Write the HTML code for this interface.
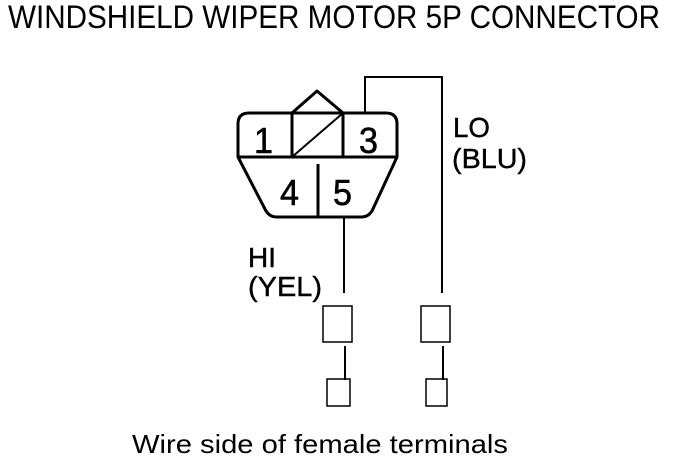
<!DOCTYPE html>
<html><head><style>html,body{margin:0;padding:0;background:#fff}</style></head>
<body>
<svg width="688" height="468" viewBox="0 0 688 468" xmlns="http://www.w3.org/2000/svg" font-family="Liberation Sans, sans-serif">
<text x="8" y="28" font-size="32" textLength="652" lengthAdjust="spacingAndGlyphs">WINDSHIELD WIPER MOTOR 5P CONNECTOR</text>
<g fill="none" stroke="#000" stroke-width="3" stroke-linejoin="round">
<path d="M238,157 L238,124 Q238,113 249,113 L386,113 Q397,113 397,124 L397,157 L372,211 Q368,217 362,217 L276,217 Q270,217 266,211 Z"/>
<line x1="238" y1="157" x2="397" y2="157"/>
<line x1="292" y1="113" x2="292" y2="157"/>
<line x1="343" y1="113" x2="343" y2="157"/>
<line x1="318" y1="164" x2="318" y2="217"/>
<path d="M292,113 L317,91 L343,113"/>
</g>
<g fill="none" stroke="#000" stroke-width="2">
<line x1="292" y1="157" x2="343" y2="113"/>
<path d="M365,113 L365,77 L442,77 L442,293"/>
<line x1="344" y1="217" x2="344" y2="293"/>
<line x1="345" y1="346" x2="345" y2="380"/>
<line x1="443" y1="346" x2="443" y2="380"/>
</g>
<g fill="none" stroke="#000" stroke-width="1.5">
<rect x="323" y="306" width="29" height="36"/>
<rect x="327" y="379" width="23" height="27"/>
<rect x="421" y="306" width="29" height="36"/>
<rect x="426" y="379" width="21" height="27"/>
</g>
<g font-size="36" stroke="#000" stroke-width="0.6">
<text x="254" y="153" textLength="19" lengthAdjust="spacingAndGlyphs">1</text>
<text x="359" y="153" textLength="19" lengthAdjust="spacingAndGlyphs">3</text>
<text x="280" y="205" textLength="19" lengthAdjust="spacingAndGlyphs">4</text>
<text x="333" y="205" textLength="19" lengthAdjust="spacingAndGlyphs">5</text>
</g>
<g font-size="28" stroke="#000" stroke-width="0.4">
<text x="453" y="137" textLength="37" lengthAdjust="spacingAndGlyphs">LO</text>
<text x="452" y="168" textLength="75" lengthAdjust="spacingAndGlyphs">(BLU)</text>
<text x="248" y="267" textLength="28" lengthAdjust="spacingAndGlyphs">HI</text>
<text x="248" y="296" textLength="74" lengthAdjust="spacingAndGlyphs">(YEL)</text>
</g>
<text x="132" y="453" font-size="26" textLength="376" lengthAdjust="spacingAndGlyphs">Wire side of female terminals</text>
</svg>
</body></html>
